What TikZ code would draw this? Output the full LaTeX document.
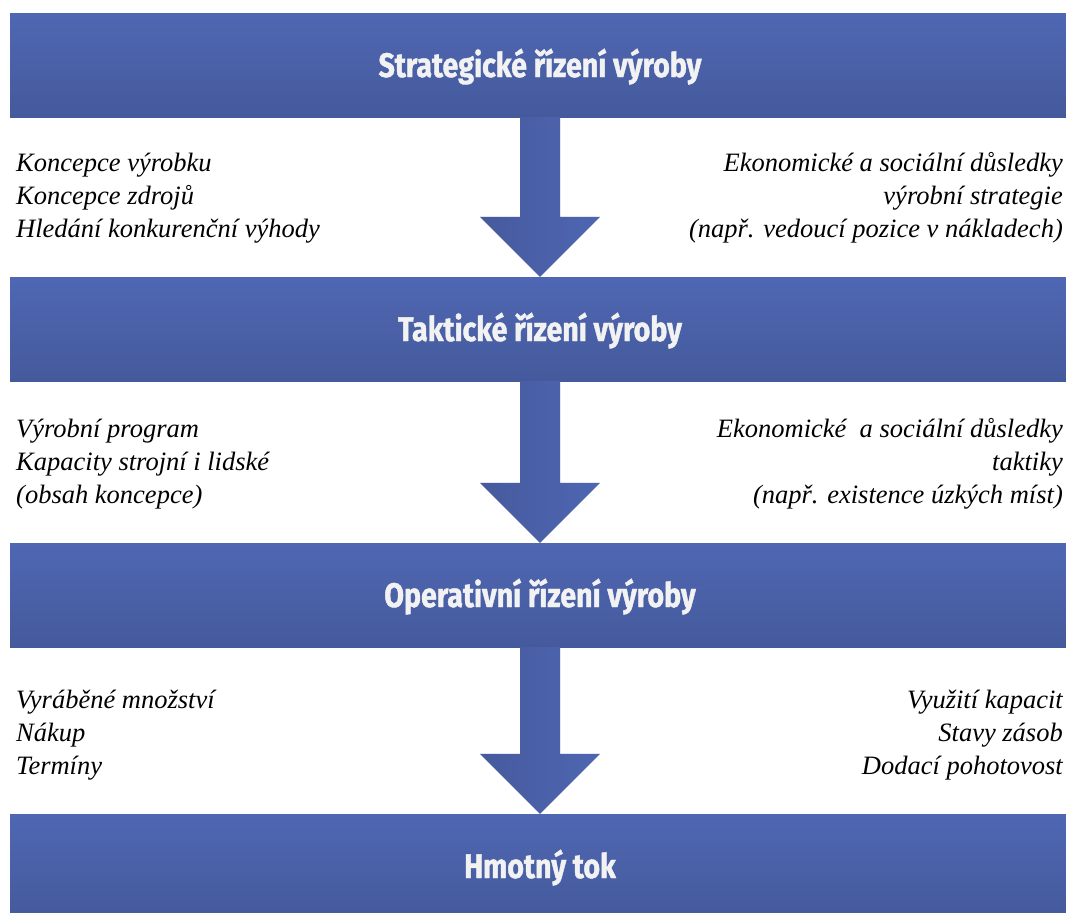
\documentclass[tikz,border=0pt]{standalone}
\usepackage{fontspec}
\setmainfont{Liberation Serif}
\newfontfamily\barfont[FakeStretch=0.84, BoldFeatures={FakeBold=1.2}]{Fira Sans}
\usetikzlibrary{calc}
\pgfdeclarelayer{bg}
\pgfsetlayers{bg,main}
\definecolor{bartop}{HTML}{4F67B3}
\definecolor{barbot}{HTML}{455A9C}
\definecolor{barink}{HTML}{F2F2F2}
\definecolor{arrowl}{HTML}{465A9D}
\definecolor{arrowr}{HTML}{4E66B2}

% arrow from the bottom of one bar to the top of the next
\newcommand\flowarrow[2]{%
  \begin{pgfonlayer}{bg}
    \fill[arrowshadow, xshift=4pt, yshift=-3pt]
      ($(#1.south)+(-20,0)$) -- ($(#1.south)+(20,0)$) -- ($(#2.north)+(20,-60)$)
      -- ($(#2.north)+(60,-60)$) -- (#2.north) -- ($(#2.north)+(-60,-60)$)
      -- ($(#2.north)+(-20,-60)$) -- cycle;
  \end{pgfonlayer}
  \path[arrowbody]
    ($(#1.south)+(-20,0)$) -- ($(#1.south)+(20,0)$) -- ($(#2.north)+(20,-60)$)
    -- ($(#2.north)+(60,-60)$) -- (#2.north) -- ($(#2.north)+(-60,-60)$)
    -- ($(#2.north)+(-20,-60)$) -- cycle;
}

\begin{document}
\begin{tikzpicture}[x=1pt, y=-1pt,
  bar/.style={rectangle, minimum width=1060pt, minimum height=104pt, inner sep=0pt,
    top color=bartop, bottom color=barbot, text=barink,
    font=\barfont\bfseries\fontsize{34}{40}\selectfont,
    text height=24pt, text depth=0pt},
  arrowbody/.style={left color=arrowl, right color=arrowr},
  arrowshadow/.style={fill=black!14},
  note/.style={inner sep=0pt, font=\itshape\fontsize{26.5}{33}\selectfont},
  leftnote/.style={note, align=left, anchor=base west},
  rightnote/.style={note, align=right, anchor=base east}]
\useasboundingbox (0,0) rectangle (1066,913);

\node[bar] (b1) at (540,65) {Strategické řízení výroby};
\node[bar] (b2) at (540,329) {Taktické řízení výroby};
\node[bar] (b3) at (540,595) {Operativní řízení výroby};
\node[bar] (b4) at (540,866) {Hmotný tok};

\flowarrow{b1}{b2}
\flowarrow{b2}{b3}
\flowarrow{b3}{b4}

% the base anchor of these three-line notes sits on their last line
\node[leftnote] (l1) at (16,237) {Koncepce výrobku\\Koncepce zdrojů\\Hledání konkurenční výhody};
\node[rightnote] (r1) at (1063,237) {Ekonomické a sociální důsledky\\výrobní strategie\\(např. vedoucí pozice v nákladech)};

\node[leftnote] (l2) at (16,503) {Výrobní program\\Kapacity strojní i lidské\\(obsah koncepce)};
\node[rightnote] (r2) at (1063,503) {Ekonomické\ \ a sociální důsledky\\taktiky\\(např. existence úzkých míst)};

\node[leftnote] (l3) at (16,774) {Vyráběné množství\\Nákup\\Termíny};
\node[rightnote] (r3) at (1063,774) {Využití kapacit\\Stavy zásob\\Dodací pohotovost};
\end{tikzpicture}
\end{document}
